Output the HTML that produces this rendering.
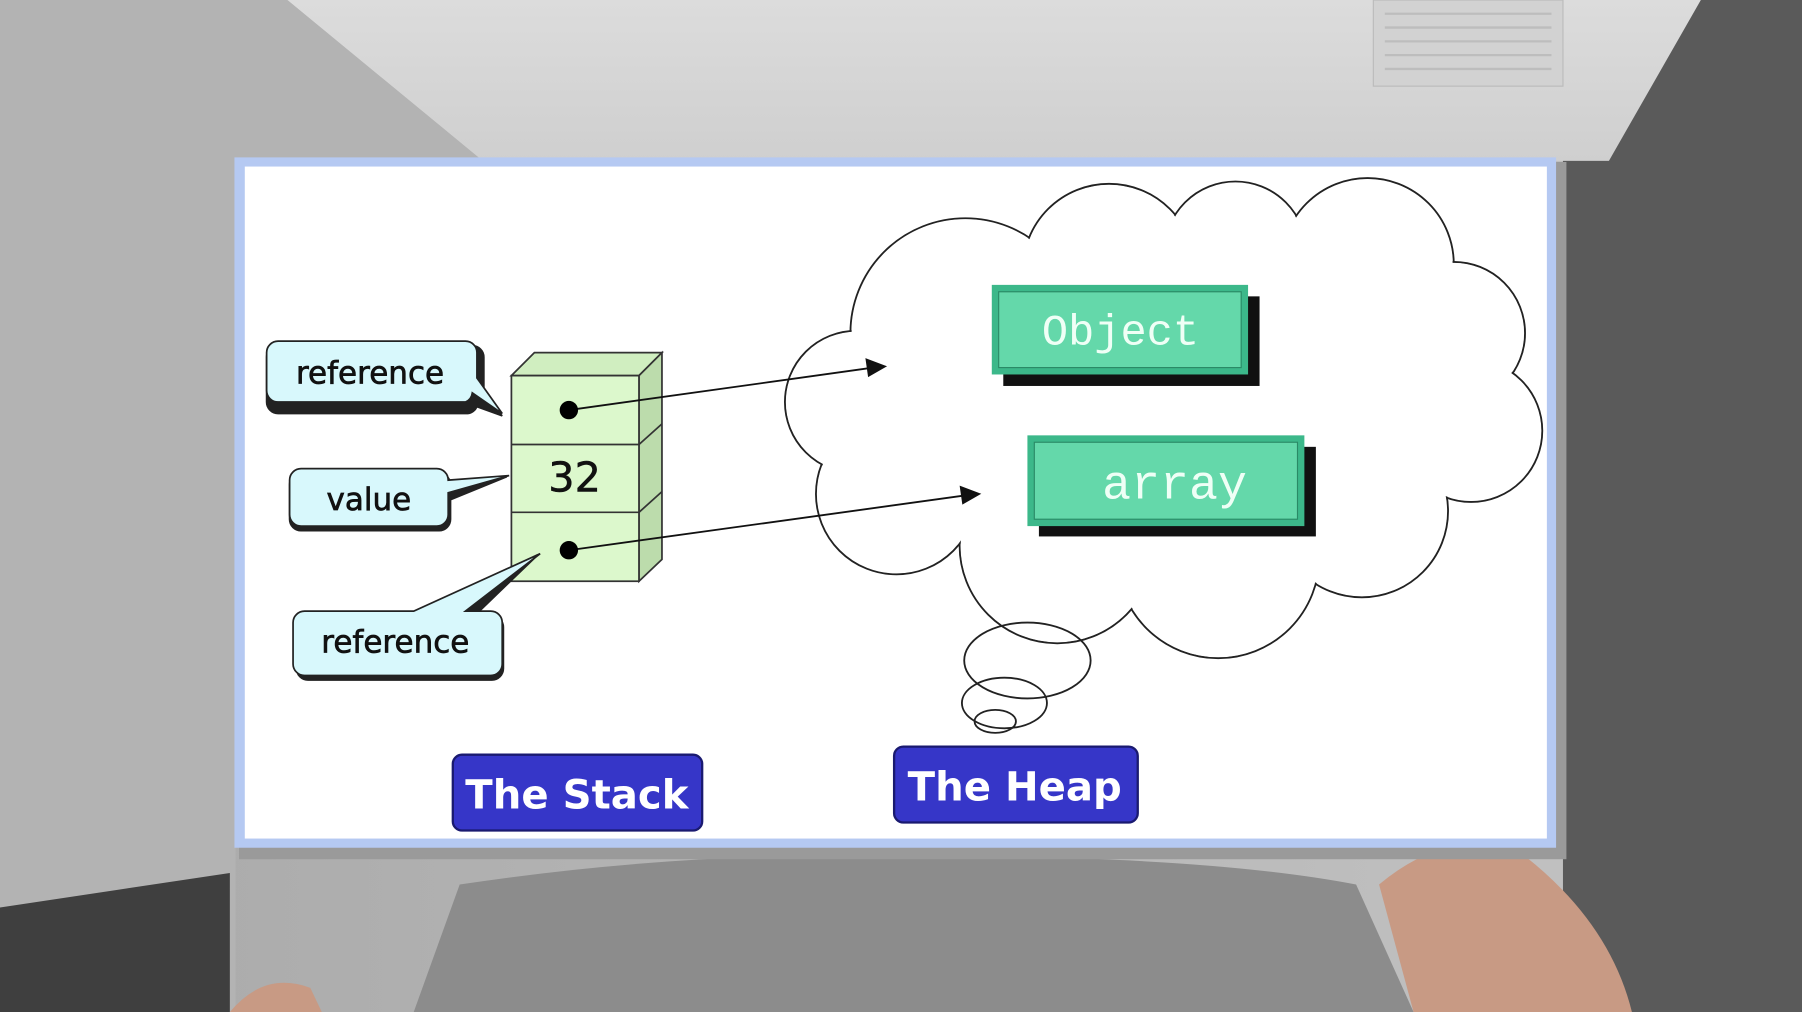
<!DOCTYPE html>
<html><head><style>html,body{margin:0;padding:0;overflow:hidden;background:#999}svg{display:block}</style></head>
<body>
<svg width="1802" height="1012" viewBox="0 0 1568 881" preserveAspectRatio="none" xmlns="http://www.w3.org/2000/svg">
<defs>
<linearGradient id="lw" x1="0" x2="1"><stop offset="0" stop-color="#a9a9a9"/><stop offset="1" stop-color="#c4c4c4"/></linearGradient>
<linearGradient id="ceil" x1="0" y1="0" x2="0" y2="1"><stop offset="0" stop-color="#dcdcdc"/><stop offset="1" stop-color="#cfcfcf"/></linearGradient>
</defs>
<rect width="1568" height="881" fill="url(#lw)"/>
<polygon points="250,0 1480,0 1400,140 420,140" fill="url(#ceil)"/>
<polygon points="0,0 250,0 420,140 205,140 205,881 0,881" fill="#b3b3b3"/>
<polygon points="1480,0 1568,0 1568,881 1360,881 1360,140 1400,140" fill="#5a5a5a"/>
<rect x="1195" y="0" width="165" height="75" fill="#d2d2d2" stroke="#bbb"/>
<g stroke="#bdbdbd" stroke-width="2"><line x1="1205" y1="12" x2="1350" y2="12"/><line x1="1205" y1="24" x2="1350" y2="24"/><line x1="1205" y1="36" x2="1350" y2="36"/><line x1="1205" y1="48" x2="1350" y2="48"/><line x1="1205" y1="60" x2="1350" y2="60"/></g>
<polygon points="0,790 200,760 200,881 0,881" fill="#3f3f3f"/>
<path d="M360,881 L400,770 Q600,740 800,745 Q1050,745 1180,770 L1230,881 Z" fill="#8c8c8c"/>
<path d="M1200,770 Q1260,720 1320,740 Q1400,800 1420,881 L1230,881 Z" fill="#c89a84"/>
<path d="M200,881 Q230,845 270,860 L280,881 Z" fill="#c89a84"/>
<!-- slide -->
<rect x="208" y="141" width="1155" height="607" fill="#9a9a9a"/>
<rect x="204" y="137" width="1150" height="601" fill="#b5c9f2"/>
<rect x="213" y="145" width="1133" height="585" fill="#fff"/>
<!-- cloud -->
<g stroke="#222" stroke-width="1.6" fill="#fff">
<circle cx="840" cy="290" r="100"/><circle cx="965" cy="235" r="75"/><circle cx="1075" cy="220" r="62"/><circle cx="1190" cy="230" r="75"/><circle cx="1265" cy="290" r="62"/><circle cx="1280" cy="375" r="62"/><circle cx="1185" cy="445" r="75"/><circle cx="1060" cy="485" r="88"/><circle cx="920" cy="475" r="85"/><circle cx="780" cy="430" r="70"/><circle cx="745" cy="350" r="62"/>
</g>
<g fill="#fff">
<circle cx="840" cy="290" r="99"/><circle cx="965" cy="235" r="74"/><circle cx="1075" cy="220" r="61"/><circle cx="1190" cy="230" r="74"/><circle cx="1265" cy="290" r="61"/><circle cx="1280" cy="375" r="61"/><circle cx="1185" cy="445" r="74"/><circle cx="1060" cy="485" r="87"/><circle cx="920" cy="475" r="84"/><circle cx="780" cy="430" r="69"/><circle cx="745" cy="350" r="61"/>
<ellipse cx="1010" cy="360" rx="250" ry="140"/>
</g>
<g fill="none" stroke="#222" stroke-width="1.6">
<ellipse cx="894" cy="575" rx="55" ry="33"/><ellipse cx="874" cy="612" rx="37" ry="22"/><ellipse cx="866" cy="628" rx="18" ry="10"/>
</g>
<!-- heap boxes -->
<rect x="873" y="258" width="223" height="78" fill="#111"/>
<rect x="863" y="248" width="223" height="78" fill="#3cb88a"/>
<rect x="869" y="254" width="211" height="66" fill="#64d8aa" stroke="#2a8a66"/>
<text x="975" y="300" font-family="Liberation Mono,monospace" font-size="38" fill="#effff6" text-anchor="middle">Object</text>
<rect x="904" y="389" width="241" height="78" fill="#111"/>
<rect x="894" y="379" width="241" height="79" fill="#3cb88a"/>
<rect x="900" y="385" width="229" height="67" fill="#64d8aa" stroke="#2a8a66"/>
<text x="1022" y="434" font-family="Liberation Mono,monospace" font-size="42" fill="#effff6" text-anchor="middle">array</text>
<!-- stack -->
<g stroke="#333" stroke-width="1.5">
<polygon points="445,327 465,307 576,307 556,327" fill="#d0eec0"/>
<polygon points="556,327 576,307 576,487 556,506" fill="#bcdcac"/>
<rect x="445" y="327" width="111" height="179" fill="#dcf8cc"/>
<line x1="445" y1="387" x2="556" y2="387"/><line x1="445" y1="446" x2="556" y2="446"/>
<line x1="556" y1="387" x2="576" y2="369"/><line x1="556" y1="446" x2="576" y2="428"/>
</g>
<text x="500" y="428" font-family="DejaVu Sans,sans-serif" font-size="36" text-anchor="middle" fill="#111" stroke="#111" stroke-width="0.5">32</text>
<g stroke="#111" stroke-width="1.6" fill="#111">
<line x1="495" y1="357" x2="760" y2="320"/><polygon points="770,319 754,313 756,327"/>
<line x1="495" y1="479" x2="842" y2="431"/><polygon points="852,430 836,424 838,438"/>
</g>
<circle cx="495" cy="357" r="8" fill="#000"/><circle cx="495" cy="479" r="8" fill="#000"/>
<!-- callouts -->
<g stroke="#222" stroke-width="1.5">
<path d="M236,301 h175 a10,10 0 0 1 10,10 v35 l16,16 l-22,-8 a10,10 0 0 1 -8,6 h-165 a10,10 0 0 1 -10,-10 v-39 a10,10 0 0 1 10,-10z" fill="#222"/>
<path d="M242,297 h163 a10,10 0 0 1 10,10 v22 l22,31 l-26,-18 a10,10 0 0 1 -6,8 h-163 a10,10 0 0 1 -10,-10 v-33 a10,10 0 0 1 10,-10z" fill="#d8f8fc"/>
<path d="M262,412 h120 a10,10 0 0 1 10,10 l49,-7 l-49,20 v17 a10,10 0 0 1 -10,10 h-120 a10,10 0 0 1 -10,-10 v-30 a10,10 0 0 1 10,-10z" fill="#222"/>
<path d="M262,408 h118 a10,10 0 0 1 10,10 l53,-4 l-53,15 v19 a10,10 0 0 1 -10,10 h-118 a10,10 0 0 1 -10,-10 v-30 a10,10 0 0 1 10,-10z" fill="#d8f8fc"/>
<path d="M268,536 h100 l100,-53 l-55,53 h15 a10,10 0 0 1 10,10 v36 a10,10 0 0 1 -10,10 h-160 a10,10 0 0 1 -10,-10 v-36 a10,10 0 0 1 10,-10z" fill="#222"/>
<path d="M265,532 h95 l110,-50 l-65,50 h22 a10,10 0 0 1 10,10 v36 a10,10 0 0 1 -10,10 h-162 a10,10 0 0 1 -10,-10 v-36 a10,10 0 0 1 10,-10z" fill="#d8f8fc"/>
</g>
<g font-family="DejaVu Sans,sans-serif" font-size="27" fill="#111" stroke="#111" stroke-width="0.6" text-anchor="middle">
<text x="322" y="334">reference</text><text x="321" y="444">value</text><text x="344" y="568">reference</text>
</g>
<!-- labels -->
<rect x="394" y="657" width="217" height="66" rx="8" fill="#3636c8" stroke="#1a1a70" stroke-width="2"/>
<text x="502" y="704" font-family="DejaVu Sans,sans-serif" font-weight="bold" font-size="35" fill="#fff" text-anchor="middle">The Stack</text>
<rect x="778" y="650" width="212" height="66" rx="8" fill="#3636c8" stroke="#1a1a70" stroke-width="2"/>
<text x="883" y="697" font-family="DejaVu Sans,sans-serif" font-weight="bold" font-size="35" fill="#fff" text-anchor="middle">The Heap</text>
</svg>
</body></html>
